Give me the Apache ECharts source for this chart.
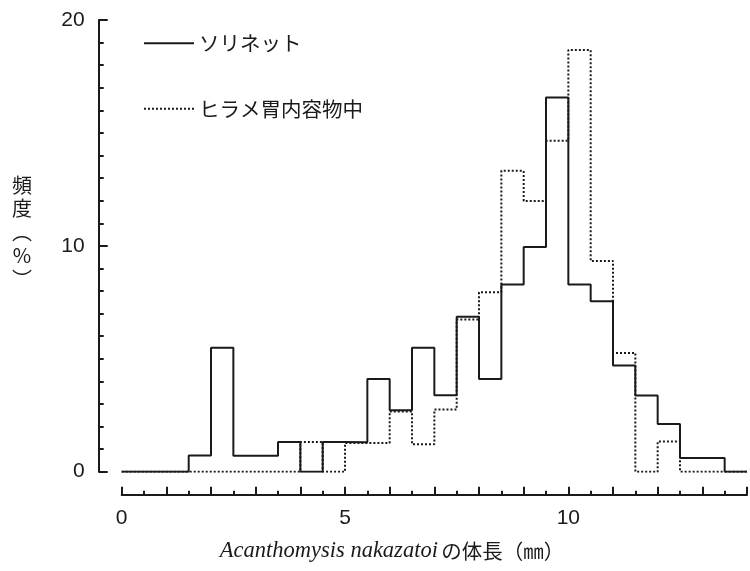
<!DOCTYPE html>
<html>
<head>
<meta charset="utf-8">
<script src="https://cdn.jsdelivr.net/npm/echarts@6/dist/echarts.min.js"></script>
<style>
html,body{margin:0;padding:0;background:#fff;}
#chart{width:750px;height:571px;}
</style>
</head>
<body>
<div id="chart"></div>
<script>
// Bin left edges (mm), bin width 0.5 mm
const binEdges = [0,0.5,1.0,1.5,2.0,2.5,3.0,3.5,4.0,4.5,5.0,5.5,6.0,6.5,7.0,7.5,8.0,8.5,9.0,9.5,10.0,10.5,11.0,11.5,12.0,12.5,13.0,13.5];
// ソリネット (solid line), frequency %
const sorinet = [0,0,0,0.72,5.49,0.71,0.71,1.32,0,1.32,1.30,4.11,2.72,5.49,3.38,6.86,4.11,8.29,9.95,16.57,8.29,7.55,4.70,3.37,2.11,0.61,0.61,0];
// ヒラメ胃内容物中 (dotted line), frequency %
const hirame = [0,0,0,0,0,0,0,0,1.32,0,1.27,1.27,2.67,1.22,2.75,6.74,7.95,13.32,11.99,14.65,18.67,9.33,5.26,0,1.34,0,0,0];
const seriesNames = ['ソリネット','ヒラメ胃内容物中'];
const xLabelValues = [0,5,10];
const yLabelValues = [0,10,20];
const xMax = 14;

function stepData(vals){
  const d = binEdges.map((x,i)=>[x, vals[i]]);
  d.push([xMax, vals[vals.length-1]]);
  return d;
}

const ink = '#1a1a1a';
const chart = echarts.init(document.getElementById('chart'), null, {renderer:'canvas'});
const option = {
  animation:false,
  backgroundColor:'#ffffff',
  color:[ink, ink],
  grid:{left:121.7, right:-6.6, top:20, bottom:99.3, containLabel:false},
  legend:{
    orient:'vertical', left:143, top:33, padding:0, itemWidth:50, itemHeight:14, itemGap:45,
    data:seriesNames,
    itemStyle:{opacity:0},
    textStyle:{fontSize:20.5, fontFamily:'Noto Sans CJK JP', color:ink}
  },
  xAxis:{
    type:'value', min:0, max:xMax, interval:1, position:'bottom', offset:23,
    axisLine:{show:true, onZero:false, lineStyle:{color:ink, width:2}},
    axisTick:{show:true, inside:true, length:8, lineStyle:{color:ink, width:2}},
    minorTick:{show:true, splitNumber:2, length:4, lineStyle:{color:ink, width:2}},
    axisLabel:{margin:13, fontSize:21, fontFamily:'Liberation Sans', color:ink,
      formatter:v => xLabelValues.includes(v) ? String(v) : ''},
    splitLine:{show:false}, minorSplitLine:{show:false}
  },
  yAxis:{
    type:'value', min:0, max:20, interval:10, offset:23,
    axisLine:{show:true, onZero:false, lineStyle:{color:ink, width:2}},
    axisTick:{show:true, inside:true, length:9, lineStyle:{color:ink, width:2}},
    minorTick:{show:true, splitNumber:10, length:5, lineStyle:{color:ink, width:2}},
    axisLabel:{margin:14, fontSize:21, fontFamily:'Liberation Sans', color:ink,
      formatter:v => yLabelValues.includes(v) ? String(v) : ''},
    splitLine:{show:false}, minorSplitLine:{show:false}
  },
  graphic:[
    {type:'text', x:22, y:232, style:{
      text:'頻\n度\n︵\n%\n︶', align:'center', verticalAlign:'middle',
      fontSize:20, lineHeight:23.5, fontFamily:'Noto Sans CJK JP', fill:ink}},
    {type:'text', x:392, y:551, style:{
      text:'{a|Acanthomysis nakazatoi} {b|の体長（㎜）}', align:'center', verticalAlign:'middle',
      fill:ink,
      rich:{
        a:{fontFamily:'Liberation Serif', fontStyle:'italic', fontSize:22.5, fill:ink},
        b:{fontFamily:'Noto Sans CJK JP', fontSize:20.5, fill:ink}
      }}}
  ],
  series:[
    {type:'line', name:seriesNames[0], step:'end', symbol:'none', z:3,
      data:stepData(sorinet), lineStyle:{color:ink, width:2}, itemStyle:{color:ink}},
    {type:'line', name:seriesNames[1], step:'end', symbol:'none', z:2,
      data:stepData(hirame), lineStyle:{color:ink, width:2, type:[2,2]}, itemStyle:{color:ink}}
  ]
};
chart.setOption(option);
</script>
</body>
</html>
